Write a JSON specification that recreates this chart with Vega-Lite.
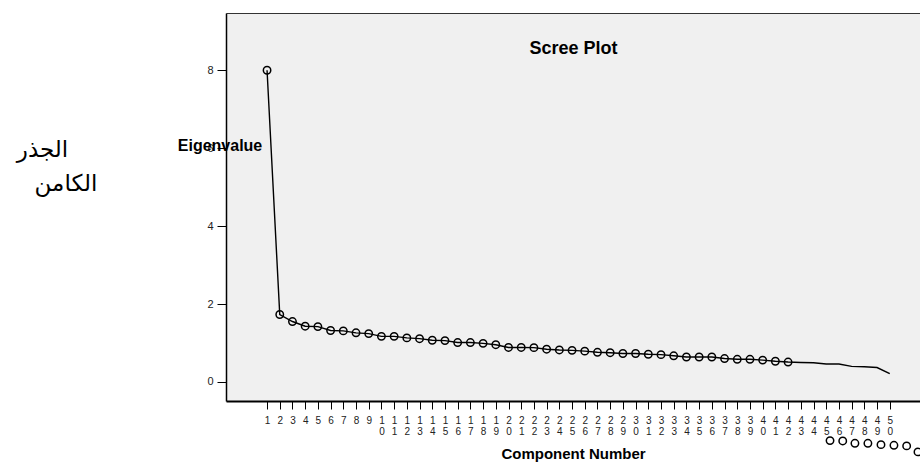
{
  "$schema": "https://vega.github.io/schema/vega-lite/v6.json",
  "width": 694,
  "height": 388,
  "autosize": {"type": "none"},
  "padding": {"left": 226, "top": 13, "right": 0, "bottom": 61},
  "background": "white",
  "config": {"view": {"fill": "#f0f0f0", "stroke": null}, "font": "Liberation Sans"},
  "datasets": {
    "eig": [
      {"c": 1, "e": 8.0}, {"c": 2, "e": 1.73}, {"c": 3, "e": 1.55}, {"c": 4, "e": 1.43}, {"c": 5, "e": 1.42},
      {"c": 6, "e": 1.32}, {"c": 7, "e": 1.31}, {"c": 8, "e": 1.26}, {"c": 9, "e": 1.24}, {"c": 10, "e": 1.17},
      {"c": 11, "e": 1.17}, {"c": 12, "e": 1.13}, {"c": 13, "e": 1.11}, {"c": 14, "e": 1.07}, {"c": 15, "e": 1.06},
      {"c": 16, "e": 1.01}, {"c": 17, "e": 1.01}, {"c": 18, "e": 0.99}, {"c": 19, "e": 0.955}, {"c": 20, "e": 0.885},
      {"c": 21, "e": 0.885}, {"c": 22, "e": 0.88}, {"c": 23, "e": 0.84}, {"c": 24, "e": 0.82}, {"c": 25, "e": 0.81},
      {"c": 26, "e": 0.79}, {"c": 27, "e": 0.76}, {"c": 28, "e": 0.75}, {"c": 29, "e": 0.73}, {"c": 30, "e": 0.73},
      {"c": 31, "e": 0.71}, {"c": 32, "e": 0.70}, {"c": 33, "e": 0.67}, {"c": 34, "e": 0.64}, {"c": 35, "e": 0.64},
      {"c": 36, "e": 0.64}, {"c": 37, "e": 0.60}, {"c": 38, "e": 0.58}, {"c": 39, "e": 0.58}, {"c": 40, "e": 0.56},
      {"c": 41, "e": 0.53}, {"c": 42, "e": 0.51}, {"c": 43, "e": 0.50}, {"c": 44, "e": 0.49}, {"c": 45, "e": 0.46},
      {"c": 46, "e": 0.46}, {"c": 47, "e": 0.40}, {"c": 48, "e": 0.39}, {"c": 49, "e": 0.37}, {"c": 50, "e": 0.21}
    ],
    "pts": [
      {"c": 1, "e": 8.0}, {"c": 2, "e": 1.73}, {"c": 3, "e": 1.55}, {"c": 4, "e": 1.43}, {"c": 5, "e": 1.42},
      {"c": 6, "e": 1.32}, {"c": 7, "e": 1.31}, {"c": 8, "e": 1.26}, {"c": 9, "e": 1.24}, {"c": 10, "e": 1.17},
      {"c": 11, "e": 1.17}, {"c": 12, "e": 1.13}, {"c": 13, "e": 1.11}, {"c": 14, "e": 1.07}, {"c": 15, "e": 1.06},
      {"c": 16, "e": 1.01}, {"c": 17, "e": 1.01}, {"c": 18, "e": 0.99}, {"c": 19, "e": 0.955}, {"c": 20, "e": 0.885},
      {"c": 21, "e": 0.885}, {"c": 22, "e": 0.88}, {"c": 23, "e": 0.84}, {"c": 24, "e": 0.82}, {"c": 25, "e": 0.81},
      {"c": 26, "e": 0.79}, {"c": 27, "e": 0.76}, {"c": 28, "e": 0.75}, {"c": 29, "e": 0.73}, {"c": 30, "e": 0.73},
      {"c": 31, "e": 0.71}, {"c": 32, "e": 0.70}, {"c": 33, "e": 0.67}, {"c": 34, "e": 0.64}, {"c": 35, "e": 0.64},
      {"c": 36, "e": 0.64}, {"c": 37, "e": 0.60}, {"c": 38, "e": 0.58}, {"c": 39, "e": 0.58}, {"c": 40, "e": 0.56},
      {"c": 41, "e": 0.53}, {"c": 42, "e": 0.51},
      {"c": 45.3, "e": -1.507}, {"c": 46.3, "e": -1.515}, {"c": 47.26, "e": -1.576}, {"c": 48.28, "e": -1.576},
      {"c": 49.31, "e": -1.61}, {"c": 50.33, "e": -1.628}, {"c": 51.33, "e": -1.643}, {"c": 52.22, "e": -1.797}
    ]
  },
  "resolve": {"axis": {"x": "independent", "y": "independent"}},
  "layer": [
    {
      "data": {"name": "eig"},
      "mark": {"type": "line", "color": "black", "strokeWidth": 1.4},
      "encoding": {
        "x": {
          "field": "c", "type": "quantitative",
          "scale": {"domain": [-2.23, 52.38], "nice": false, "zero": false},
          "axis": {
            "orient": "bottom",
            "values": [1,2,3,4,5,6,7,8,9,10,11,12,13,14,15,16,17,18,19,20,21,22,23,24,25,26,27,28,29,30,31,32,33,34,35,36,37,38,39,40,41,42,43,44,45,46,47,48,49,50],
            "labelExpr": "length(datum.label) > 1 ? [substring(datum.label, 0, 1), substring(datum.label, 1, 2)] : datum.label",
            "labelOverlap": false, "labelFlush": false, "labelAngle": 0,
            "labelBaseline": "top", "labelAlign": "center",
            "labelFontSize": 10, "labelLineHeight": 11, "labelPadding": 6, "labelColor": "#222",
            "tickSize": 8, "tickColor": "black", "tickWidth": 1,
            "domainColor": "black", "domainWidth": 2, "grid": false,
            "title": "Component Number", "titleFontSize": 15, "titleFontWeight": "bold", "titleColor": "black",
            "titleX": 347, "titleY": 57, "titleBaseline": "alphabetic", "titleAlign": "center", "titleAngle": 0
          }
        },
        "y": {
          "field": "e", "type": "quantitative",
          "scale": {"domain": [-0.49, 9.47], "nice": false, "zero": false},
          "axis": {
            "orient": "left",
            "values": [0, 2, 4, 6, 8],
            "labelFontSize": 11, "labelPadding": 4, "labelColor": "#222",
            "tickSize": 9, "tickColor": "black", "tickWidth": 1,
            "domainColor": "black", "domainWidth": 1.5, "grid": false,
            "title": "Eigenvalue", "titleFontSize": 16, "titleFontWeight": "bold", "titleColor": "black",
            "titleAngle": 0, "titleX": -6.5, "titleY": 137, "titleAlign": "center", "titleBaseline": "alphabetic"
          }
        }
      }
    },
    {
      "data": {"name": "pts"},
      "mark": {"type": "point", "shape": "circle", "filled": false, "color": "black", "size": 55, "strokeWidth": 1.5, "opacity": 1},
      "encoding": {
        "x": {
          "field": "c", "type": "quantitative",
          "scale": {"domain": [-2.23, 52.38], "nice": false, "zero": false},
          "axis": {
            "orient": "top", "labels": false, "ticks": false, "grid": false,
            "domain": true, "domainColor": "#333", "domainWidth": 1,
            "title": "Scree Plot", "titleFontSize": 18, "titleFontWeight": "bold", "titleColor": "black",
            "titleX": 347, "titleY": 40, "titleAlign": "center", "titleBaseline": "alphabetic", "titleAngle": 0
          }
        },
        "y": {
          "field": "e", "type": "quantitative",
          "scale": {"domain": [-0.49, 9.47], "nice": false, "zero": false},
          "axis": {
            "orient": "left", "labels": false, "ticks": false, "domain": false, "grid": false,
            "title": ["الجذر\u00a0\u00a0\u00a0\u00a0\u200b", "الكامن"],
            "titleFont": "DejaVu Sans", "titleFontSize": 23, "titleFontWeight": "normal", "titleColor": "black",
            "titleAngle": 0, "titleAlign": "right", "titleBaseline": "alphabetic",
            "titleX": -129, "titleY": 143, "titleLineHeight": 34
          }
        }
      }
    }
  ]
}
